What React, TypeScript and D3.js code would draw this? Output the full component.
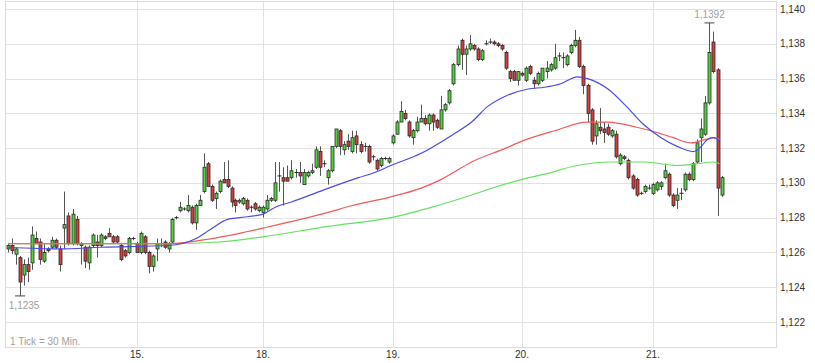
import * as d3 from "d3";

// candle data: [open, high, low, close], 30-min ticks
const day14 = [
  [1.1262, 1.1265, 1.126, 1.1264], [1.1264, 1.1268, 1.1259, 1.1261], [1.1259, 1.1263, 1.1253, 1.1262],
  [1.1257, 1.1258, 1.1235, 1.1243], [1.1247, 1.1256, 1.1241, 1.1253], [1.1253, 1.1257, 1.1243, 1.1249],
  [1.1254, 1.1275, 1.125, 1.127], [1.1268, 1.1272, 1.1265, 1.1265], [1.1266, 1.1268, 1.1253, 1.1256],
  [1.1255, 1.1265, 1.1254, 1.126], [1.1262, 1.1263, 1.126, 1.1261], [1.1263, 1.1269, 1.1262, 1.1267],
  [1.1267, 1.1268, 1.1262, 1.1263], [1.1262, 1.1264, 1.1249, 1.1253], [1.1274, 1.1295, 1.1262, 1.1276],
  [1.1281, 1.1283, 1.1264, 1.1265], [1.1265, 1.1285, 1.1264, 1.1282], [1.1279, 1.1281, 1.1264, 1.1265],
  [1.1264, 1.1266, 1.1253, 1.1265], [1.1263, 1.1264, 1.1251, 1.1255], [1.1254, 1.1264, 1.125, 1.1263],
  [1.1264, 1.1271, 1.1263, 1.127], [1.1266, 1.127, 1.1257, 1.1264], [1.1264, 1.1271, 1.1263, 1.127],
  [1.1269, 1.127, 1.1267, 1.1268], [1.1271, 1.1274, 1.127, 1.1269], [1.1269, 1.127, 1.1265, 1.1266],
  [1.1269, 1.127, 1.1265, 1.1266], [1.1264, 1.1265, 1.1255, 1.1256], [1.1261, 1.1262, 1.1257, 1.1258],
  [1.126, 1.1269, 1.1259, 1.1268], [1.1268, 1.1269, 1.1267, 1.1268],
];
const day15 = [
  [1.1265, 1.1266, 1.126, 1.126], [1.126, 1.1272, 1.1259, 1.1271], [1.1269, 1.127, 1.1259, 1.126],
  [1.126, 1.1261, 1.1248, 1.1252], [1.1252, 1.1259, 1.1249, 1.1258], [1.1262, 1.1268, 1.1255, 1.1265],
  [1.1265, 1.1268, 1.1263, 1.1265], [1.1266, 1.1267, 1.1262, 1.1263], [1.1262, 1.1266, 1.126, 1.1265],
  [1.1266, 1.128, 1.1265, 1.1279], [1.128, 1.1281, 1.1279, 1.128], [1.1284, 1.1289, 1.1283, 1.1286],
  [1.1285, 1.1286, 1.1284, 1.1285], [1.1284, 1.1293, 1.1283, 1.1287], [1.1286, 1.1287, 1.1276, 1.1277],
  [1.1277, 1.1288, 1.1273, 1.1287], [1.1287, 1.1293, 1.1287, 1.129], [1.1295, 1.1317, 1.1294, 1.1309],
  [1.1311, 1.1312, 1.1298, 1.1298], [1.1298, 1.1299, 1.1289, 1.129], [1.1291, 1.1295, 1.1285, 1.1294],
  [1.1295, 1.1302, 1.1294, 1.1301], [1.1302, 1.1312, 1.13, 1.13], [1.1302, 1.1313, 1.1297, 1.1298],
  [1.1297, 1.1298, 1.1286, 1.1289], [1.129, 1.1291, 1.1283, 1.1287], [1.1289, 1.1291, 1.1288, 1.129],
  [1.1288, 1.1292, 1.1287, 1.1291], [1.129, 1.1291, 1.1284, 1.1285], [1.1286, 1.1287, 1.1283, 1.1286],
  [1.1288, 1.1289, 1.1284, 1.1285], [1.1284, 1.1287, 1.1283, 1.1286],
];
const day18 = [
  [1.1283, 1.1287, 1.128, 1.1286], [1.1285, 1.1293, 1.1284, 1.129], [1.129, 1.1292, 1.1289, 1.1291],
  [1.129, 1.1312, 1.1289, 1.13], [1.1304, 1.1312, 1.1295, 1.1304], [1.1303, 1.1309, 1.1287, 1.1301],
  [1.1303, 1.131, 1.1301, 1.1301], [1.1303, 1.1313, 1.1302, 1.1307], [1.1306, 1.1308, 1.1303, 1.1306],
  [1.1306, 1.1312, 1.13, 1.1304], [1.1299, 1.1308, 1.1299, 1.1306], [1.1304, 1.1307, 1.1303, 1.1306],
  [1.1306, 1.1311, 1.1305, 1.1307], [1.1309, 1.1321, 1.1308, 1.1319], [1.1318, 1.1321, 1.1304, 1.1309],
  [1.1311, 1.1313, 1.1309, 1.1311], [1.1303, 1.1308, 1.1299, 1.1307], [1.1307, 1.1321, 1.1306, 1.1321],
  [1.1321, 1.1331, 1.132, 1.1331], [1.133, 1.1331, 1.1316, 1.1321], [1.1319, 1.1324, 1.1316, 1.1322],
  [1.1324, 1.1328, 1.1319, 1.1321], [1.1318, 1.133, 1.1317, 1.1326], [1.1327, 1.133, 1.1317, 1.1322],
  [1.1322, 1.1324, 1.1317, 1.1318], [1.1321, 1.1323, 1.1318, 1.1321], [1.1321, 1.1322, 1.1311, 1.1312],
  [1.1315, 1.1316, 1.1313, 1.1315], [1.1313, 1.1314, 1.1307, 1.1308], [1.131, 1.1315, 1.1309, 1.1314],
  [1.1314, 1.1315, 1.1313, 1.1314], [1.1312, 1.1315, 1.1311, 1.1314],
];
const day19 = [
  [1.1323, 1.1328, 1.1322, 1.1327], [1.1328, 1.1336, 1.1328, 1.1335], [1.1335, 1.1347, 1.1335, 1.1341],
  [1.134, 1.1342, 1.1336, 1.1337], [1.1335, 1.1336, 1.1326, 1.1327], [1.1326, 1.1331, 1.1322, 1.133],
  [1.133, 1.1338, 1.1329, 1.1335], [1.1335, 1.1345, 1.1335, 1.1337], [1.1337, 1.1339, 1.1333, 1.1334],
  [1.1334, 1.134, 1.133, 1.1339], [1.1339, 1.134, 1.133, 1.1335], [1.1336, 1.1337, 1.1331, 1.1332],
  [1.1331, 1.135, 1.1331, 1.1342], [1.1342, 1.1346, 1.1341, 1.1345], [1.1346, 1.1354, 1.1345, 1.1353],
  [1.1357, 1.1369, 1.1356, 1.1368], [1.1368, 1.1379, 1.1367, 1.1377], [1.1382, 1.1383, 1.1365, 1.1374],
  [1.1374, 1.1379, 1.1362, 1.1377], [1.1377, 1.1385, 1.1376, 1.138], [1.1379, 1.138, 1.1376, 1.1377],
  [1.1377, 1.1378, 1.137, 1.1371], [1.1371, 1.1377, 1.137, 1.1376], [1.138, 1.1382, 1.1379, 1.138],
  [1.1381, 1.1383, 1.138, 1.1381], [1.1381, 1.1382, 1.1379, 1.138], [1.138, 1.1381, 1.1378, 1.1379],
  [1.1379, 1.138, 1.1376, 1.1377], [1.1375, 1.1376, 1.1365, 1.1366], [1.1364, 1.1365, 1.1358, 1.136],
  [1.1364, 1.1365, 1.1359, 1.1359], [1.1359, 1.1364, 1.1356, 1.1364],
];
const day20 = [
  [1.1363, 1.1364, 1.1361, 1.1362], [1.1359, 1.1367, 1.1358, 1.1366], [1.1367, 1.1368, 1.1362, 1.1363],
  [1.1359, 1.1361, 1.1354, 1.1357], [1.1357, 1.1364, 1.1356, 1.1363], [1.1359, 1.1366, 1.1358, 1.1366],
  [1.1364, 1.137, 1.136, 1.1366], [1.1365, 1.1369, 1.1364, 1.1368], [1.1366, 1.138, 1.1365, 1.1372],
  [1.1373, 1.1375, 1.137, 1.1373], [1.1372, 1.1375, 1.1366, 1.1372], [1.1368, 1.1374, 1.1367, 1.1373],
  [1.1375, 1.138, 1.1374, 1.1379], [1.1379, 1.1388, 1.1378, 1.1382], [1.1382, 1.1384, 1.1366, 1.1367],
  [1.1367, 1.1368, 1.1351, 1.1356], [1.1356, 1.1357, 1.1335, 1.134], [1.1342, 1.1343, 1.1322, 1.1324],
  [1.1327, 1.1336, 1.1322, 1.1334], [1.1332, 1.1343, 1.1328, 1.133], [1.1331, 1.1335, 1.1323, 1.1329],
  [1.1332, 1.1334, 1.1327, 1.1328], [1.1327, 1.1331, 1.1326, 1.133], [1.1328, 1.133, 1.1314, 1.1315],
  [1.1311, 1.1317, 1.131, 1.1316], [1.1315, 1.1316, 1.1313, 1.1314], [1.1313, 1.1314, 1.1302, 1.1303],
  [1.1304, 1.1305, 1.1296, 1.1297], [1.1302, 1.1303, 1.1292, 1.1293], [1.1294, 1.1295, 1.1293, 1.1294],
  [1.1295, 1.1299, 1.1294, 1.1298], [1.1297, 1.1299, 1.1296, 1.1297],
];
const day21 = [
  [1.1294, 1.13, 1.1293, 1.1299], [1.1296, 1.1301, 1.1295, 1.13], [1.1298, 1.1301, 1.1296, 1.13],
  [1.1303, 1.1311, 1.1302, 1.1307], [1.1305, 1.1306, 1.1292, 1.1293], [1.1293, 1.1294, 1.1286, 1.1287],
  [1.129, 1.1297, 1.1285, 1.1293], [1.1294, 1.1297, 1.129, 1.1294], [1.1296, 1.1306, 1.1295, 1.1305],
  [1.1305, 1.1306, 1.1301, 1.1302], [1.1302, 1.1312, 1.1301, 1.1311], [1.1312, 1.1325, 1.1311, 1.1323],
  [1.1326, 1.1337, 1.1312, 1.1331], [1.1328, 1.135, 1.1327, 1.1346], [1.1346, 1.1392, 1.1345, 1.1375],
  [1.1381, 1.1387, 1.1363, 1.1364], [1.1365, 1.1366, 1.1281, 1.1297], [1.1293, 1.1304, 1.1292, 1.1303],
];

// moving averages: [candle index, value]
const maFast = [
  [0, 1.1263], [13, 1.1262], [23, 1.1263], [40, 1.1264], [47, 1.1268], [50.5, 1.1273], [55, 1.1279],
  [58, 1.128], [64, 1.1282], [67, 1.1286], [71, 1.1289], [79, 1.1296], [87.5, 1.1303], [91.5, 1.1306],
  [95.5, 1.131], [103, 1.1317], [111, 1.1328], [115.5, 1.1335], [119.5, 1.1344], [124, 1.135],
  [129.5, 1.1354], [133.5, 1.1355], [137.5, 1.1357], [141.5, 1.1361], [144, 1.136], [149, 1.1354],
  [153.5, 1.1344], [157.5, 1.1334], [162, 1.1326], [166, 1.1321], [170, 1.1318], [172, 1.1321],
  [173.5, 1.1325], [175, 1.1326], [176.5, 1.1324],
];
const maMid = [
  [0, 1.1265], [40, 1.1265], [51, 1.1268], [58, 1.1271], [64, 1.1274], [80, 1.1283], [86, 1.1287],
  [95.5, 1.1292], [103, 1.1297], [108, 1.1302], [115.5, 1.1312], [124, 1.132], [128, 1.1324],
  [136, 1.133], [144, 1.1335], [149, 1.1335], [156, 1.1332], [161, 1.1329], [165, 1.1326],
  [169.5, 1.1323], [173, 1.1325], [175, 1.1326], [176.5, 1.1325],
];
const maSlow = [
  [0, 1.1265], [40, 1.1265], [53, 1.1266], [64, 1.1269], [80, 1.1275], [95.5, 1.128], [108.5, 1.1288],
  [128, 1.1302], [133.5, 1.1305], [141.5, 1.131], [150, 1.1312], [158, 1.1312], [166, 1.131],
  [171, 1.1311], [175, 1.1312], [176.5, 1.1311],
];

const dayLabels = ["15.", "18.", "19.", "20.", "21."];
const dayStarts = [32, 64, 96, 128, 160];
const yTicks = [1.122, 1.124, 1.126, 1.128, 1.13, 1.132, 1.134, 1.136, 1.138, 1.14];

const candles = [...day14, ...day15, ...day18, ...day19, ...day20, ...day21];

const W = 815;
const H = 363;
const left = 5, right = 776, top = 1, bottom = 347;

export default function App() {
  const x = d3
    .scaleLinear()
    .domain([0, 32, 64, 96, 128, 160, 192])
    .range([8, 137, 263, 393, 522, 653, 782]);
  const y = d3.scaleLinear().domain([1.122, 1.14]).range([322, 9]);

  const fmt3 = (v) => d3.format(".3f")(v).replace(".", ",");
  const fmt4 = (v) => d3.format(".4f")(v).replace(".", ",");

  const line = d3
    .line()
    .x((d) => x(d[0]))
    .y((d) => y(d[1]))
    .curve(d3.curveMonotoneX);

  const hiIdx = d3.maxIndex(candles, (d) => d[1]);
  const loIdx = d3.minIndex(candles, (d) => d[2]);
  const bw = 3;

  return (
    <svg
      width={W}
      height={H}
      style={{ position: "absolute", left: 0, top: 0, background: "#fff" }}
      fontFamily="'Liberation Sans', Arial, sans-serif"
    >
      <defs>
        <clipPath id="plot">
          <rect x={left} y={top} width={right - left} height={bottom - top} />
        </clipPath>
      </defs>

      {/* grid */}
      {yTicks.map((t) => (
        <line key={t} x1={left} x2={right} y1={Math.round(y(t)) + 0.5} y2={Math.round(y(t)) + 0.5} stroke="#e2e2e2" />
      ))}
      {dayStarts.map((d) => (
        <line key={d} x1={Math.round(x(d)) + 0.5} x2={Math.round(x(d)) + 0.5} y1={top} y2={bottom} stroke="#e2e2e2" />
      ))}
      <rect x={left + 0.5} y={top + 0.5} width={right - left} height={bottom - top} fill="none" stroke="#dcdcdc" />

      {/* axis labels */}
      {yTicks.map((t) => (
        <text key={t} x={780} y={y(t) + 3.5} fontSize={10} fill="#333">
          {fmt3(t)}
        </text>
      ))}
      {dayStarts.map((d, i) => (
        <text key={d} x={x(d)} y={357.5} fontSize={10} fill="#333" textAnchor="middle">
          {dayLabels[i]}
        </text>
      ))}
      <text x={10} y={345} fontSize={10} fill="#a0a0a0">
        1 Tick = 30 Min.
      </text>

      {/* candles */}
      <g clipPath="url(#plot)">
        {candles.map((c, i) => {
          const [o, h, l, cl] = c;
          const cx = Math.round(x(i)) + 0.5;
          const yTop = y(Math.max(o, cl));
          const yBot = y(Math.min(o, cl));
          const flat = Math.abs(o - cl) < 0.00005;
          return (
            <g key={i}>
              <line x1={cx} x2={cx} y1={y(h)} y2={y(l)} stroke="#555" strokeWidth={1} />
              {flat ? (
                <line x1={cx - 2} x2={cx + 2} y1={yTop} y2={yTop} stroke="#222" strokeWidth={1} />
              ) : (
                <rect
                  x={cx - bw / 2}
                  y={yTop}
                  width={bw}
                  height={Math.max(1, yBot - yTop)}
                  fill={cl > o ? "#4fd43c" : "#d83c3c"}
                  stroke="#2a2a2a"
                  strokeWidth={0.8}
                />
              )}
            </g>
          );
        })}

        <path d={line(maSlow)} fill="none" stroke="#66e060" strokeWidth={1.2} />
        <path d={line(maMid)} fill="none" stroke="#f05a5a" strokeWidth={1.2} />
        <path d={line(maFast)} fill="none" stroke="#4a4ae8" strokeWidth={1.2} />
      </g>

      {/* high / low markers */}
      <line x1={x(hiIdx) - 5} x2={x(hiIdx) + 5} y1={y(candles[hiIdx][1])} y2={y(candles[hiIdx][1])} stroke="#444" />
      <text x={x(hiIdx)} y={y(candles[hiIdx][1]) - 4.5} fontSize={10} fill="#a0a0a0" textAnchor="middle">
        {fmt4(candles[hiIdx][1])}
      </text>
      <line x1={x(loIdx) - 5} x2={x(loIdx) + 5} y1={y(candles[loIdx][2])} y2={y(candles[loIdx][2])} stroke="#444" />
      <text x={x(loIdx) + 4} y={y(candles[loIdx][2]) + 13} fontSize={10} fill="#a0a0a0" textAnchor="middle">
        {fmt4(candles[loIdx][2])}
      </text>
    </svg>
  );
}
